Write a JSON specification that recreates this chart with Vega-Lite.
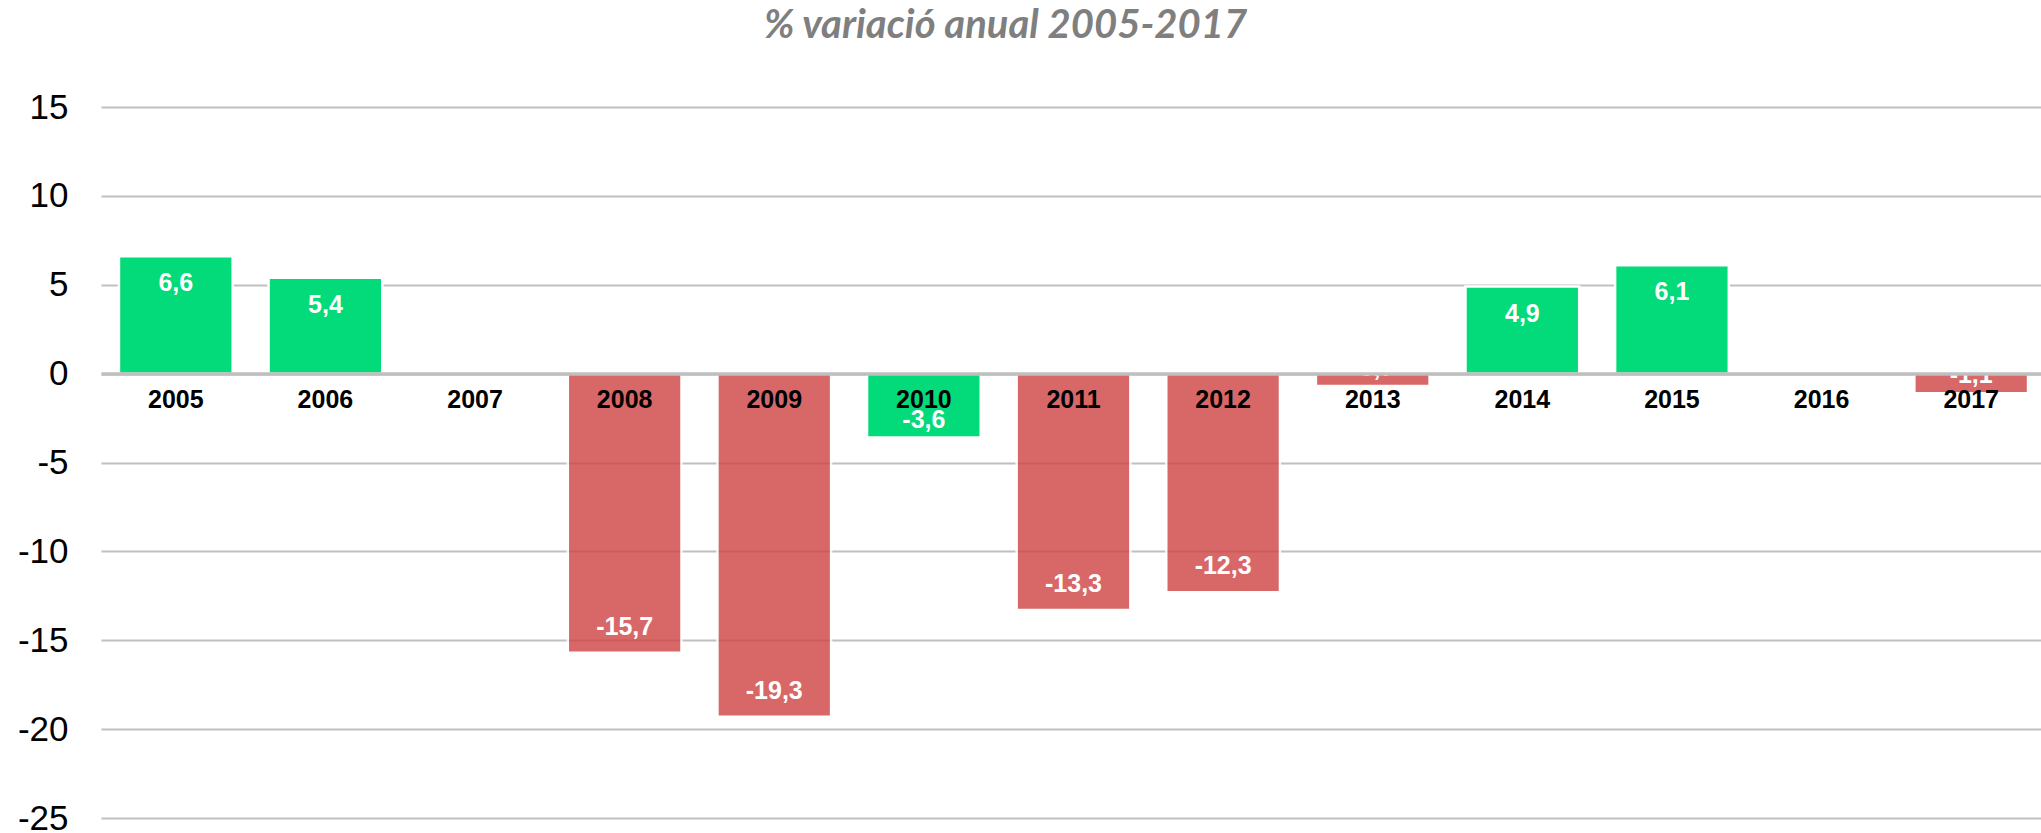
{
  "$schema": "https://vega.github.io/schema/vega-lite/v6.json",
  "autosize": {"type": "none"},
  "padding": {"left": 101, "top": 107, "right": 0, "bottom": 15},
  "width": 1945,
  "height": 711,
  "background": "white",
  "config": {
    "view": {"stroke": null},
    "locale": {"number": {"decimal": ",", "thousands": ".", "grouping": [3], "currency": ["", " €"], "minus": "-"}}
  },
  "title": {
    "text": "% variació anual 2005-2017",
    "font": "Lato",
    "fontSize": 40,
    "fontWeight": "bold",
    "fontStyle": "italic",
    "color": "#7f7f7f",
    "anchor": "middle",
    "baseline": "alphabetic",
    "dx": -68,
    "offset": 12
  },
  "data": {
    "values": [
      {"any": "2005", "v": 6.6, "grup": "verd"},
      {"any": "2006", "v": 5.4, "grup": "verd"},
      {"any": "2007", "v": null, "grup": "verd"},
      {"any": "2008", "v": -15.7, "grup": "vermell"},
      {"any": "2009", "v": -19.3, "grup": "vermell"},
      {"any": "2010", "v": -3.6, "grup": "verd"},
      {"any": "2011", "v": -13.3, "grup": "vermell"},
      {"any": "2012", "v": -12.3, "grup": "vermell"},
      {"any": "2013", "v": -0.7, "grup": "vermell"},
      {"any": "2014", "v": 4.9, "grup": "verd"},
      {"any": "2015", "v": 6.1, "grup": "verd"},
      {"any": "2016", "v": null, "grup": "verd"},
      {"any": "2017", "v": -1.1, "grup": "vermell"}
    ]
  },
  "encoding": {
    "x": {
      "field": "any",
      "type": "ordinal",
      "scale": {
        "domain": ["2005","2006","2007","2008","2009","2010","2011","2012","2013","2014","2015","2016","2017"],
        "paddingInner": 0.24,
        "paddingOuter": 0.12
      },
      "axis": {
        "title": null,
        "orient": "bottom",
        "offset": -444.4,
        "labelAngle": 0,
        "ticks": false,
        "domain": true,
        "domainColor": "#bfbfbf",
        "domainWidth": 3.5,
        "labelFont": "Liberation Sans",
        "labelFontSize": 25,
        "labelFontWeight": "bold",
        "labelColor": "#000000",
        "labelPadding": 14,
        "labelBaseline": "top",
        "zindex": 1
      }
    },
    "y": {
      "field": "v",
      "type": "quantitative",
      "scale": {"domain": [-25, 15], "nice": false, "zero": false},
      "axis": {
        "title": null,
        "values": [-25, -20, -15, -10, -5, 0, 5, 10, 15],
        "format": "d",
        "domain": false,
        "ticks": false,
        "grid": true,
        "gridColor": "#c0c0c0",
        "gridWidth": 2,
        "labelFont": "Liberation Sans",
        "labelFontSize": 35,
        "labelColor": "#000000",
        "labelPadding": 33,
        "zindex": 0
      }
    }
  },
  "layer": [
    {
      "mark": {"type": "bar", "stroke": "white", "strokeWidth": 2.5},
      "encoding": {
        "color": {
          "field": "grup",
          "type": "nominal",
          "scale": {"domain": ["verd", "vermell"], "range": ["#03da7a", "#cf4242"]},
          "legend": null
        },
        "opacity": {
          "field": "grup",
          "type": "nominal",
          "scale": {"domain": ["verd", "vermell"], "range": [1, 0.8]},
          "legend": null
        }
      }
    },
    {
      "transform": [{"filter": "datum.v > 0"}],
      "mark": {"type": "text", "baseline": "middle", "dy": 27, "font": "Liberation Sans", "fontSize": 25, "fontWeight": "bold", "color": "white"},
      "encoding": {"text": {"field": "v", "type": "quantitative", "format": ".1f"}}
    },
    {
      "transform": [{"filter": "datum.v <= -5"}],
      "mark": {"type": "text", "baseline": "middle", "dy": -26, "font": "Liberation Sans", "fontSize": 25, "fontWeight": "bold", "color": "white"},
      "encoding": {"text": {"field": "v", "type": "quantitative", "format": ".1f"}}
    },
    {
      "transform": [{"filter": "datum.v < 0 && datum.v > -5"}],
      "mark": {"type": "text", "baseline": "bottom", "dy": -5, "font": "Liberation Sans", "fontSize": 25, "fontWeight": "bold", "color": "white"},
      "encoding": {"text": {"field": "v", "type": "quantitative", "format": ".1f"}}
    }
  ]
}
